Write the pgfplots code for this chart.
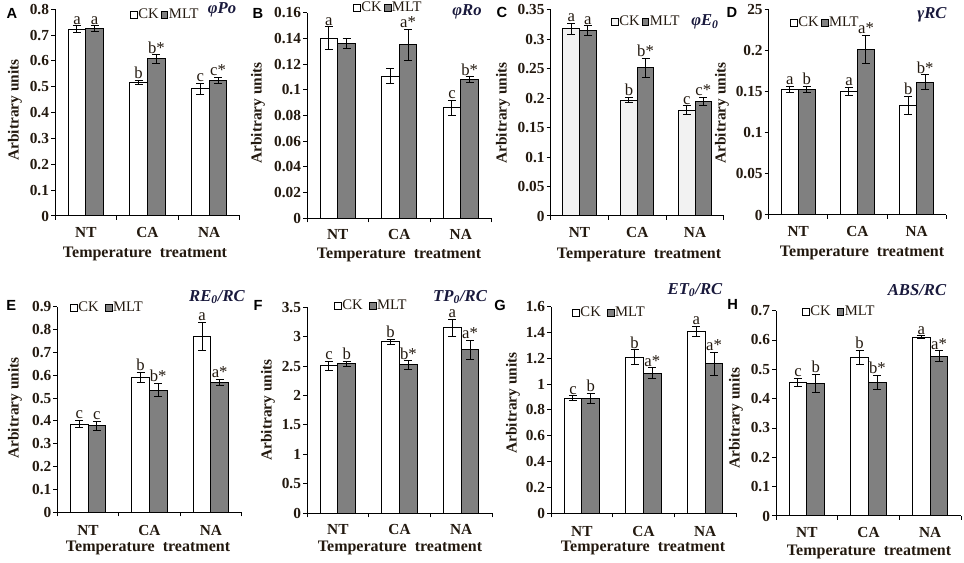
\documentclass[border=0pt]{standalone}
\usepackage{pgfplots}
\pgfplotsset{compat=1.18}
\usepackage{fontspec}
\setmainfont{Liberation Serif}
\newfontfamily\panelfont{Liberation Sans}
\definecolor{txt}{RGB}{35,25,15}
\definecolor{ttl}{RGB}{25,25,60}
\definecolor{mlt}{RGB}{128,128,128}
\definecolor{ckc}{RGB}{242,242,242}
\pgfplotsset{
  panel/.style={
    scale only axis, anchor=south west, clip=false,
    xmin=-0.5, xmax=2.5, ymin=0,
    axis x line*=bottom, axis y line*=left,
    axis line style={-, line width=0.75pt, black},
    xtick={-0.5,0.5,1.5,2.5}, x tick label as interval, xticklabels={NT,CA,NA},
    tick align=outside, major tick length=3pt,
    tick style={black, line width=0.75pt},
    ticklabel style={font=\bfseries\fontsize{11.5}{13}\selectfont, text=txt},
    yticklabel style={xshift=2pt},
    xticklabel style={yshift=-2pt},
    /pgf/number format/assume math mode=true,
    ybar, bar width=0.287,
    legend image code/.code={\draw[##1, line width=0.5pt] (0pt,-2.5pt) rectangle (5pt,2.5pt);},
    legend style={draw=none, fill=none, inner sep=0pt, legend columns=2,
      font=\fontsize{11}{12}\selectfont, text=txt, anchor=west,
      nodes={inner sep=0.6pt},
      /tikz/every even column/.append style={column sep=1pt}},
    error bars/error mark=-,
    error bars/error bar style={line width=0.75pt, black},
    error bars/error mark options={rotate=90, line width=0.75pt, mark size=3pt, black},
  },
  ck/.style={fill=white, draw=black, line width=0.75pt, bar shift=-0.1435},
  ml/.style={fill=mlt, draw=black, line width=0.75pt, bar shift=0.1435},
}
\tikzset{lab/.style={font=\fontsize{12.5}{13}\selectfont, text=txt, anchor=south, inner sep=1pt}}
\newcommand{\lab}[3]{\node[lab] at (axis cs:#1,#2) {#3};}
\newcommand{\ttl}[2]{\node[font=\bfseries\itshape\fontsize{12.5}{13}\selectfont, text=ttl] at #1 {#2};}
\newcommand{\plet}[2]{\node[font=\panelfont\bfseries\fontsize{11}{12}\selectfont] at #1 {#2};}
\newcommand{\ylab}[1]{\node[rotate=90, font=\bfseries\fontsize{11.5}{12}\selectfont, text=txt] at #1 {Arbitrary units};}
\newcommand{\xlab}[1]{\node[font=\bfseries\fontsize{12}{13}\selectfont, text=txt] at #1 {Temperature\ \ treatment};}
\begin{document}
\begin{tikzpicture}
\path[use as bounding box] (0pt,0pt) rectangle (723pt,422.25pt);

% ---------- A ----------
\begin{axis}[panel, at={(41.25pt,260.25pt)}, width=138.75pt, height=155pt, ymax=0.8,
  ytick={0,0.1,0.2,0.3,0.4,0.5,0.6,0.7,0.8}, yticklabels={0,0.1,0.2,0.3,0.4,0.5,0.6,0.7,0.8},
  legend style={at={(0.405,0.972)}}]
\addplot[ck, error bars/.cd, y dir=both, y explicit] table[x=x,y=y,y error=e] {
x y e
0 0.723 0.013
1 0.516 0.008
2 0.493 0.021
};
\addplot[ml, error bars/.cd, y dir=both, y explicit] table[x=x,y=y,y error=e] {
x y e
0 0.726 0.010
1 0.608 0.016
2 0.524 0.013
};
\legend{CK,MLT}
\lab{-0.1435}{0.736}{a}\lab{0.1435}{0.736}{a}
\lab{0.8565}{0.524}{b}\lab{1.1435}{0.624}{b*}
\lab{1.8565}{0.514}{c}\lab{2.1435}{0.537}{c*}
\end{axis}

% ---------- B ----------
\begin{axis}[panel, at={(230.25pt,258.5pt)}, width=138.4pt, height=154.2pt, ymax=0.16,
  ytick={0,0.02,0.04,0.06,0.08,0.1,0.12,0.14,0.16}, yticklabels={0,0.02,0.04,0.06,0.08,0.1,0.12,0.14,0.16},
  legend style={at={(0.249,1.025)}}]
\addplot[ck, error bars/.cd, y dir=both, y explicit] table[x=x,y=y,y error=e] {
x y e
0 0.140 0.009
1 0.1107 0.006
2 0.086 0.006
};
\addplot[ml, error bars/.cd, y dir=both, y explicit] table[x=x,y=y,y error=e] {
x y e
0 0.136 0.004
1 0.135 0.012
2 0.108 0.002
};
\legend{CK,MLT}
\lab{-0.1435}{0.149}{a}
\lab{1.1435}{0.147}{a*}
\lab{1.8565}{0.092}{c}\lab{2.1435}{0.110}{b*}
\end{axis}

% ---------- C ----------
\begin{axis}[panel, at={(412.95pt,260.25pt)}, width=130pt, height=154.5pt, ymax=0.35,
  ytick={0,0.05,0.1,0.15,0.2,0.25,0.3,0.35}, yticklabels={0,0.05,0.1,0.15,0.2,0.25,0.3,0.35},
  legend style={at={(0.348,0.942)}}]
\addplot[ck, fill=ckc, error bars/.cd, y dir=both, y explicit] table[x=x,y=y,y error=e] {
x y e
0 0.318 0.009
1 0.197 0.005
2 0.180 0.007
};
\addplot[ml, error bars/.cd, y dir=both, y explicit] table[x=x,y=y,y error=e] {
x y e
0 0.315 0.008
1 0.252 0.016
2 0.195 0.007
};
\legend{CK,MLT}
\lab{-0.1435}{0.327}{a}\lab{0.1435}{0.323}{a}
\lab{0.8565}{0.202}{b}\lab{1.1435}{0.268}{b*}
\lab{1.8565}{0.187}{c}\lab{2.1435}{0.202}{c*}
\end{axis}

% ---------- D ----------
\begin{axis}[panel, at={(576.5pt,261pt)}, width=133.2pt, height=153.75pt, ymax=0.25,
  ytick={0,0.05,0.1,0.15,0.2,0.25}, yticklabels={0,0.05,0.1,0.15,0.2,25},
  legend style={at={(0.12,0.937)}}]
\addplot[ck, error bars/.cd, y dir=both, y explicit] table[x=x,y=y,y error=e] {
x y e
0 0.153 0.004
1 0.1506 0.005
2 0.1336 0.011
};
\addplot[ml, error bars/.cd, y dir=both, y explicit] table[x=x,y=y,y error=e] {
x y e
0 0.153 0.004
1 0.202 0.017
2 0.162 0.009
};
\legend{CK,MLT}
\lab{-0.1435}{0.157}{a}\lab{0.1435}{0.157}{b}
\lab{0.8565}{0.156}{a}\lab{1.1435}{0.219}{a*}
\lab{1.8565}{0.145}{b}\lab{2.1435}{0.171}{b*}
\end{axis}

% ---------- E ----------
\begin{axis}[panel, at={(43pt,38pt)}, width=138.15pt, height=154.2pt, ymax=0.9,
  ytick={0,0.1,0.2,0.3,0.4,0.5,0.6,0.7,0.8,0.9}, yticklabels={0,0.1,0.2,0.3,0.4,0.5,0.6,0.7,0.8,0.9},
  xticklabel style={yshift=-1.5pt},
  legend style={at={(0.069,0.994)}, /tikz/every even column/.append style={column sep=4pt}}]
\addplot[ck, error bars/.cd, y dir=both, y explicit] table[x=x,y=y,y error=e] {
x y e
0 0.386 0.015
1 0.590 0.021
2 0.771 0.062
};
\addplot[ml, error bars/.cd, y dir=both, y explicit] table[x=x,y=y,y error=e] {
x y e
0 0.379 0.020
1 0.535 0.028
2 0.5685 0.015
};
\legend{CK,MLT}
\lab{-0.1435}{0.401}{c}\lab{0.1435}{0.399}{c}
\lab{0.8565}{0.611}{b}\lab{1.1435}{0.563}{b*}
\lab{1.8565}{0.833}{a}\lab{2.1435}{0.584}{a*}
\end{axis}

% ---------- F ----------
\begin{axis}[panel, at={(230.25pt,37.3pt)}, width=138.75pt, height=154.5pt, ymax=3.5,
  ytick={0,0.5,1,1.5,2,2.5,3,3.5}, yticklabels={0,0.5,1,1.5,2,2.5,3,3.5},
  legend style={at={(0.146,1.006)}, /tikz/every even column/.append style={column sep=4pt}}]
\addplot[ck, error bars/.cd, y dir=both, y explicit] table[x=x,y=y,y error=e] {
x y e
0 2.508 0.076
1 2.910 0.045
2 3.148 0.150
};
\addplot[ml, error bars/.cd, y dir=both, y explicit] table[x=x,y=y,y error=e] {
x y e
0 2.537 0.040
1 2.520 0.070
2 2.775 0.158
};
\legend{CK,MLT}
\lab{-0.1435}{2.584}{c}\lab{0.1435}{2.577}{b}
\lab{0.8565}{2.955}{b}\lab{1.1435}{2.590}{b*}
\lab{1.8565}{3.298}{a}\lab{2.1435}{2.933}{a*}
\end{axis}

% ---------- G ----------
\begin{axis}[panel, at={(413.25pt,37.3pt)}, width=138.75pt, height=155pt, ymax=1.6,
  ytick={0,0.2,0.4,0.6,0.8,1,1.2,1.4,1.6}, yticklabels={0,0.2,0.4,0.6,0.8,1,1.2,1.4,1.6},
  xticklabel style={yshift=-1.5pt},
  legend style={at={(0.114,0.97)}, /tikz/every even column/.append style={column sep=4pt}}]
\addplot[ck, error bars/.cd, y dir=both, y explicit] table[x=x,y=y,y error=e] {
x y e
0 0.890 0.019
1 1.208 0.057
2 1.406 0.039
};
\addplot[ml, error bars/.cd, y dir=both, y explicit] table[x=x,y=y,y error=e] {
x y e
0 0.890 0.040
1 1.084 0.042
2 1.156 0.090
};
\legend{CK,MLT}
\lab{-0.1435}{0.909}{c}\lab{0.1435}{0.930}{b}
\lab{0.8565}{1.265}{b}\lab{1.1435}{1.126}{a*}
\lab{1.8565}{1.445}{a}\lab{2.1435}{1.246}{a*}
\end{axis}

% ---------- H ----------
\begin{axis}[panel, at={(582pt,35.25pt)}, width=138.75pt, height=154pt, ymax=0.7,
  ytick={0,0.1,0.2,0.3,0.4,0.5,0.6,0.7}, yticklabels={0,0.1,0.2,0.3,0.4,0.5,0.6,0.7},
  legend style={at={(0.14,0.994)}, /tikz/every even column/.append style={column sep=4pt}}]
\addplot[ck, error bars/.cd, y dir=both, y explicit] table[x=x,y=y,y error=e] {
x y e
0 0.456 0.013
1 0.541 0.024
2 0.609 0.005
};
\addplot[ml, error bars/.cd, y dir=both, y explicit] table[x=x,y=y,y error=e] {
x y e
0 0.452 0.032
1 0.455 0.025
2 0.545 0.018
};
\legend{CK,MLT}
\lab{-0.1435}{0.469}{c}\lab{0.1435}{0.484}{b}
\lab{0.8565}{0.565}{b}\lab{1.1435}{0.480}{b*}
\lab{1.8565}{0.614}{a}\lab{2.1435}{0.563}{a*}
\end{axis}

% ---------- titles ----------
\ttl{(166.5pt,414.75pt)}{φPo}
\ttl{(350.25pt,413.25pt)}{φRo}
\ttl{(528.75pt,405.75pt)}{φE\textsubscript{0}}
\ttl{(699pt,411pt)}{γRC}
\ttl{(162.75pt,199.5pt)}{RE\textsubscript{0}/RC}
\ttl{(345pt,199.5pt)}{TP\textsubscript{0}/RC}
\ttl{(521.25pt,204.75pt)}{ET\textsubscript{0}/RC}
\ttl{(687.75pt,204.75pt)}{ABS/RC}
% ---------- panel letters ----------
\plet{(9pt,412.5pt)}{A}
\plet{(193.5pt,412.5pt)}{B}
\plet{(376.5pt,413.25pt)}{C}
\plet{(549pt,413.25pt)}{D}
\plet{(8.5pt,193.5pt)}{E}
\plet{(193.5pt,193.5pt)}{F}
\plet{(375pt,193.5pt)}{G}
\plet{(549.5pt,194pt)}{H}
% ---------- y labels ----------
\ylab{(11.25pt,339.75pt)}
\ylab{(193.5pt,337.5pt)}
\ylab{(377.25pt,337.5pt)}
\ylab{(541.5pt,337.5pt)}
\ylab{(11.25pt,116.25pt)}
\ylab{(201pt,114.75pt)}
\ylab{(384.75pt,120pt)}
\ylab{(552pt,108.75pt)}
% ---------- x labels ----------
\xlab{(108.75pt,231.75pt)}
\xlab{(299.25pt,231pt)}
\xlab{(479.25pt,231pt)}
\xlab{(646.5pt,232.5pt)}
\xlab{(111pt,11.25pt)}
\xlab{(300pt,11.25pt)}
\xlab{(482.25pt,11.25pt)}
\xlab{(651.75pt,8.25pt)}
\end{tikzpicture}
\end{document}
